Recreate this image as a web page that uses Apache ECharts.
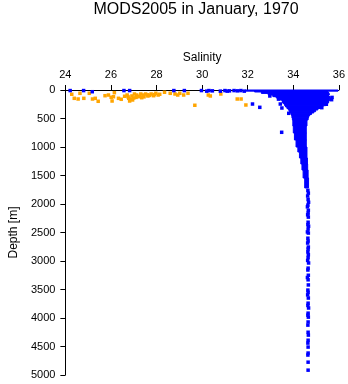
<!DOCTYPE html>
<html>
<head>
<meta charset="utf-8">
<script src="https://cdn.jsdelivr.net/npm/echarts@6/dist/echarts.min.js"></script>
<style>
  html, body { margin: 0; padding: 0; background: #fff; }
  #chart { width: 348px; height: 384px; }
</style>
</head>
<body>
<div id="chart"></div>
<script>
// Axis ranges (salinity on top, depth downwards)
const salinityTicks = [24, 26, 28, 30, 32, 34, 36];
const depthTicks = [0, 500, 1000, 1500, 2000, 2500, 3000, 3500, 4000, 4500, 5000];

// Dense core of the profile: depth bands [top, bottom] and the salinity range observed in each
const bandTop    = [0,     20,    35,    60,    88,    115,   140,   175,   193,   228,   246,   275,   298,   325,   351,   380,   404,   430,   456,   490,   526,   632,   754,   877,   1000,  1088,  1193,  1298,  1404,  1544];
const bandBottom = [20,    35,    60,    88,    115,   140,   175,   193,   228,   246,   275,   298,   325,   351,   380,   404,   430,   456,   490,   526,   632,   754,   877,   1000,  1088,  1193,  1298,  1404,  1544,  1719];
const bandMin    = [31.9,  32.3,  32.6,  32.9,  33.1,  33.25, 33.4,  33.5,  33.52, 33.58, 33.62, 33.66, 33.72, 33.78, 33.82, 33.86, 33.9,  33.93, 33.94, 33.96, 33.98, 34.0,  34.05, 34.12, 34.2,  34.27, 34.33, 34.38, 34.43, 34.5];
const bandMax    = [35.96, 35.5,  35.55, 35.58, 35.55, 35.62, 35.6,  35.58, 35.55, 35.5,  35.42, 35.3,  35.2,  35.08, 34.98, 34.9,  34.8,  34.72, 34.67, 34.65, 34.6,  34.57, 34.57, 34.57, 34.6,  34.6,  34.62, 34.63, 34.65, 34.67];

// Individual good-quality casts (blue)
const blueSal = [24.21, 24.8, 25.18, 26.57, 26.82, 28.76, 29.22, 29.97, 30.2, 30.3, 30.45, 30.8, 31.0, 31.1, 31.2, 31.4, 31.55, 31.7, 31.85,
                 32.21, 32.53, 32.97, 33.43, 33.5, 33.8, 33.49, 33.2, 33.35, 35.7, 35.68, 35.45, 35.25,
                 34.64, 34.66, 34.63, 34.65, 34.67, 34.64, 34.62, 34.66, 34.65, 34.63, 34.66, 34.65, 34.64, 34.67, 34.65, 34.62, 34.66, 34.64,
                 34.65, 34.63, 34.66, 34.65, 34.64, 34.66, 34.65, 34.63, 34.67, 34.65, 34.64, 34.66, 34.62, 34.65, 34.66, 34.64, 34.65, 34.63,
                 34.66, 34.65, 34.64, 34.67, 34.65, 34.64, 34.66, 34.65, 34.64, 34.65, 34.66, 34.65, 34.64, 34.65, 34.65, 34.64, 34.65, 34.65];
const blueDep = [10, 10, 30, 10, 10, 10, 10, 10, 20, 10, 15, 20, 10, 20, 15, 10, 15, 10, 20,
                 246, 304, 105, 246, 316, 409, 742, 95, 160, 130, 170, 250, 310,
                 1760, 1810, 1860, 1920, 1970, 2020, 2050, 2110, 2160, 2190, 2230, 2320, 2365, 2390, 2440, 2490, 2510, 2600,
                 2650, 2685, 2755, 2790, 2840, 2890, 2940, 2990, 3035, 3125, 3158, 3250, 3290, 3330, 3420, 3510, 3550, 3595,
                 3650, 3740, 3780, 3825, 3915, 3950, 3985, 4070, 4125, 4250, 4300, 4390, 4440, 4510, 4615, 4650, 4775, 4915];

// Flagged values (orange)
const orangeSal = [24.28, 24.39, 24.56, 24.64, 24.81, 25.05, 25.19, 25.31, 25.44, 25.74, 25.89, 26.01, 26.05, 26.11, 26.15, 26.33, 26.45,
                   26.71, 26.78, 26.82, 26.92, 27.03, 27.13, 27.2, 27.31, 27.41, 27.52, 27.62, 27.76, 27.87, 27.97, 28.07, 28.14,
                   28.35, 28.6, 28.81, 28.93, 29.02, 29.19, 29.38, 29.68, 30.27, 30.36, 30.82, 31.54, 31.71, 31.92,
                   26.75, 26.88, 27.0, 27.1, 27.25, 27.45, 27.6, 27.7, 27.9, 26.6, 26.95, 27.35];
const orangeDep = [75, 146, 158, 58, 146, 58, 158, 146, 198, 100, 88, 128, 193, 118, 47, 146, 163,
                   88, 146, 193, 105, 70, 88, 118, 70, 88, 70, 105, 70, 100, 58, 88, 75,
                   40, 58, 70, 88, 58, 88, 58, 268, 88, 105, 70, 158, 158, 263,
                   120, 160, 140, 130, 110, 120, 85, 95, 80, 110, 175, 135];

const zip = (a, b) => a.map((v, i) => [v, b[i]]);
const bandData = bandTop.map((t, i) => [bandMin[i], bandMax[i], t, bandBottom[i]]);

const chart = echarts.init(document.getElementById('chart'), null, { renderer: 'canvas' });
const textFont = 'Liberation Sans, Arial, Helvetica, sans-serif';

chart.setOption({
  animation: false,
  backgroundColor: '#ffffff',
  title: {
    text: 'MODS2005 in January, 1970',
    left: 196, top: 2, padding: 0, textAlign: 'center',
    textStyle: { fontFamily: textFont, fontSize: 16, fontWeight: 'normal', color: '#000' }
  },
  grid: { left: 54, right: 9, top: 90, bottom: 9 },
  xAxis: {
    type: 'value', position: 'top',
    min: salinityTicks[0], max: salinityTicks[salinityTicks.length - 1], interval: 2,
    name: 'Salinity', nameLocation: 'middle', nameGap: 24,
    nameTextStyle: { fontFamily: textFont, fontSize: 12, color: '#000' },
    axisLine: { show: true, onZero: false, lineStyle: { color: '#000', width: 1 } },
    axisTick: { show: true, length: 5, inside: false, lineStyle: { color: '#000' } },
    axisLabel: { fontFamily: textFont, fontSize: 11, color: '#000', margin: 10 },
    splitLine: { show: false }
  },
  yAxis: {
    type: 'value', inverse: true,
    min: depthTicks[0], max: depthTicks[depthTicks.length - 1], interval: 500,
    name: 'Depth [m]', nameLocation: 'middle', nameGap: 40, nameRotate: 90,
    nameTextStyle: { fontFamily: textFont, fontSize: 12, color: '#000' },
    axisLine: { show: true, onZero: false, lineStyle: { color: '#000', width: 1 } },
    axisTick: { show: true, length: 5, inside: false, lineStyle: { color: '#000' } },
    axisLabel: { fontFamily: textFont, fontSize: 11, color: '#000', margin: 10,
                 formatter: v => String(v) },
    splitLine: { show: false }
  },
  series: [
    {
      type: 'custom',
      name: 'core',
      data: bandData,
      encode: { x: [0, 1], y: [2, 3] },
      renderItem: function (params, api) {
        const p0 = api.coord([api.value(0), api.value(2)]);
        const p1 = api.coord([api.value(1), api.value(3)]);
        return {
          type: 'rect',
          shape: { x: p0[0], y: p0[1], width: p1[0] - p0[0], height: p1[1] - p0[1] },
          style: { fill: '#0000ff', stroke: '#0000ff', lineWidth: 1 }
        };
      },
      z: 2
    },
    {
      type: 'scatter', name: 'flagged',
      data: zip(orangeSal, orangeDep),
      symbol: 'rect', symbolSize: 3.5,
      itemStyle: { color: '#ffa500', opacity: 1 },
      z: 3
    },
    {
      type: 'scatter', name: 'good',
      data: zip(blueSal, blueDep),
      symbol: 'rect', symbolSize: 3.5,
      itemStyle: { color: '#0000ff', opacity: 1 },
      z: 4
    }
  ]
});
</script>
</body>
</html>
